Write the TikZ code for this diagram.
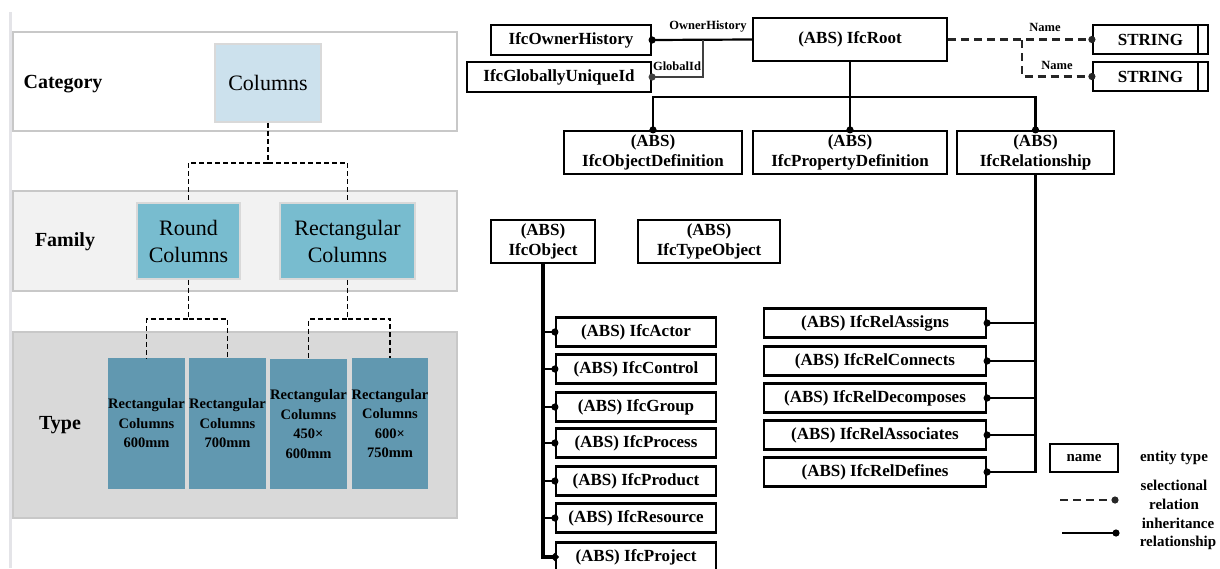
\documentclass[tikz,border=0pt]{standalone}
\usepackage{fontspec}
\setmainfont{Liberation Serif}
\usetikzlibrary{arrows.meta}
\definecolor{bandline}{HTML}{C8C8C8}
\definecolor{famfill}{HTML}{F2F2F2}
\definecolor{typefill}{HTML}{D9D9D9}
\definecolor{catblue}{HTML}{CCE1ED}
\definecolor{famblue}{HTML}{78BCCF}
\definecolor{typeblue}{HTML}{6198B0}
\definecolor{sideline}{HTML}{E4E4E8}
\begin{document}
\begin{tikzpicture}[
    x=1pt, y=-1pt,
    band/.style={draw=bandline, line width=1.8pt},
    bandlabel/.style={font=\bfseries\fontsize{20}{24}\selectfont},
    catbox/.style={draw=bandline!70, line width=1.5pt, inner sep=0pt, align=center,
        font=\fontsize{22}{27}\selectfont},
    typebox/.style={fill=typeblue, inner sep=0pt, align=center,
        font=\bfseries\fontsize{14.5}{19.5}\selectfont},
    ent/.style={draw, line width=2.2pt, inner sep=0pt, align=center,
        font=\bfseries\fontsize{17}{20.5}\selectfont},
    small/.style={font=\bfseries\fontsize{12.5}{14}\selectfont, inner sep=1pt},
    legend/.style={font=\bfseries\fontsize{15}{18.3}\selectfont, align=center},
    link/.style={draw, line width=1.8pt, dash pattern=on 5pt off 3pt},
    inh/.style={draw, line width=2.2pt, -{Circle[length=7pt]}, shorten >=-3.5pt},
    sel/.style={draw, black!85, line width=2.2pt, dash pattern=on 8pt off 5pt,
        -{Circle[length=7pt]}, shorten >=-3.5pt},
    trunk/.style={inh, line width=3.6pt}
]
    \useasboundingbox (0,0) rectangle (1220,568);
    \clip (0,0) rectangle (1220,568);

    % Left part: bands
    \draw[sideline, line width=3pt] (10,12) -- (10,568);
    \filldraw[band, fill=white] (13,32) rectangle (457,131);
    \filldraw[band, fill=famfill] (13,191) rectangle (457,291);
    \filldraw[band, fill=typefill] (13,332) rectangle (457,518);

    % Band labels
    \node[bandlabel] (lcat) at (63,84) {Category};
    \node[bandlabel] (lfam) at (65,242) {Family};
    \node[bandlabel] (ltype) at (60,425) {Type};

    % Category / family / type boxes
    \node[catbox, fill=catblue, minimum width=106, minimum height=78] (columns) at (268,83) {Columns};
    \node[catbox, fill=famblue, minimum width=103, minimum height=76] (round) at (188.5,241) {Round\\Columns};
    \node[catbox, fill=famblue, minimum width=135, minimum height=76] (rect) at (347.5,241) {Rectangular\\Columns};

    \node[typebox, minimum width=77, minimum height=131] (t1) at (146.5,423.5) {Rectangular\\Columns\\600mm};
    \node[typebox, minimum width=75, minimum height=131] (t2) at (227.5,423.5) {Rectangular\\Columns\\700mm};
    \node[typebox, minimum width=77, minimum height=130] (t3) at (308.5,424) {Rectangular\\Columns\\450×\\600mm};
    \node[typebox, minimum width=76, minimum height=131] (t4) at (390,423.5) {Rectangular\\Columns\\600×\\750mm};

    % Dashed tree links
    \draw[link] (columns.south) -- ++(0,40) -| (round.north);
    \draw[link] (columns.south) ++(0,40) -| (rect.north);
    \draw[link] (round.south) -- ++(0,39) -| (t1.north);
    \draw[link] (round.south) ++(0,39) -| (t2.north);
    \draw[link] (rect.south) -- ++(0,39) -| (t3.north);
    \draw[link] (rect.south) ++(0,39) -| (t4.north);

    % Right part: root entities
    \node[ent, minimum width=160, minimum height=30] (owner) at (571,40) {IfcOwnerHistory};
    \node[ent, minimum width=184, minimum height=30] (guid) at (559,77) {IfcGloballyUniqueId};
    \node[ent, minimum width=194, minimum height=43] (root) at (850,39.5) {(ABS) IfcRoot};
    \node[ent, minimum width=115, minimum height=29, text width=104] (str1) at (1150.5,39.5) {STRING};
    \node[ent, minimum width=115, minimum height=29, text width=104] (str2) at (1150.5,76.5) {STRING};
    \draw[line width=2.2pt] ([xshift=-11pt]str1.north east) -- ([xshift=-11pt]str1.south east);
    \draw[line width=2.2pt] ([xshift=-11pt]str2.north east) -- ([xshift=-11pt]str2.south east);

    \node[ent, minimum width=178, minimum height=43] (objdef) at (653,152.5) {(ABS)\\IfcObjectDefinition};
    \node[ent, minimum width=194, minimum height=43] (propdef) at (850,152.5) {(ABS)\\IfcPropertyDefinition};
    \node[ent, minimum width=157, minimum height=43] (rel) at (1035.5,152.5) {(ABS)\\IfcRelationship};

    \node[ent, minimum width=104, minimum height=43] (obj) at (543,241.5) {(ABS)\\IfcObject};
    \node[ent, minimum width=142, minimum height=43] (typeobj) at (709,241.5) {(ABS)\\IfcTypeObject};

    % Attribute links
    \draw[inh] (root.west) -- (owner.east);
    \coordinate (gbr) at (703,40);
    \draw[inh, black!75, line width=1.8pt] (gbr) |- (guid.east);
    \node[small] (lowner) at (708,27) {OwnerHistory};
    \node[small] (lguid) at (677,66) {GlobalId};

    \draw[sel] (root.east) -- (str1.west);
    \coordinate (nbr) at (1022,40);
    \draw[sel] (nbr) |- (str2.west);
    \node[small] (lname1) at (1045,27) {Name};
    \node[small] (lname2) at (1057,65) {Name};

    % Inheritance from IfcRoot
    \coordinate (bus) at (850,97);
    \draw[inh] (root.south) -- (propdef.north);
    \draw[inh] (bus) -| (objdef.north);
    \draw[inh] (bus) -| (rel.north);

    % Subtypes of IfcObject
    \foreach \i/\yy/\txt in {1/332/IfcActor, 2/369/IfcControl, 3/407/IfcGroup,
        4/443/IfcProcess, 5/481/IfcProduct, 6/518/IfcResource, 7/557/IfcProject} {
        \node[ent, minimum width=160, minimum height=29] (c\i) at (636,\yy) {(ABS) \txt};
    }
    \foreach \i in {1,...,6} {
        \draw[inh] (obj.south |- c\i.west) -- (c\i.west);
    }
    \draw[trunk] (obj.south) |- (c7.west);

    % Subtypes of IfcRelationship
    \foreach \i/\yy/\txt in {1/323/IfcRelAssigns, 2/361/IfcRelConnects, 3/398/IfcRelDecomposes,
        4/435/IfcRelAssociates, 5/472/IfcRelDefines} {
        \node[ent, minimum width=222, minimum height=29] (r\i) at (875,\yy) {(ABS) \txt};
    }
    \foreach \i in {1,...,4} {
        \draw[inh] (rel.south |- r\i.east) -- (r\i.east);
    }
    \draw[inh, line width=2.8pt] (rel.south) |- (r5.east);

    % Legend
    \node[ent, font=\bfseries\fontsize{15}{18}\selectfont, minimum width=68, minimum height=28] (lgname) at (1084,458) {name};
    \node[legend] (lgent) at (1174,458) {entity type};
    \coordinate (lgs) at (1060,500);
    \coordinate (lgse) at (1115,500);
    \draw[sel] (lgs) -- (lgse);
    \node[legend] (lgsel) at (1174,495) {selectional\\relation};
    \coordinate (lgi) at (1062,533);
    \coordinate (lgie) at (1116,533);
    \draw[inh] (lgi) -- (lgie);
    \node[legend] (lginh) at (1178,534) {inheritance\\relationship};

\end{tikzpicture}
\end{document}
